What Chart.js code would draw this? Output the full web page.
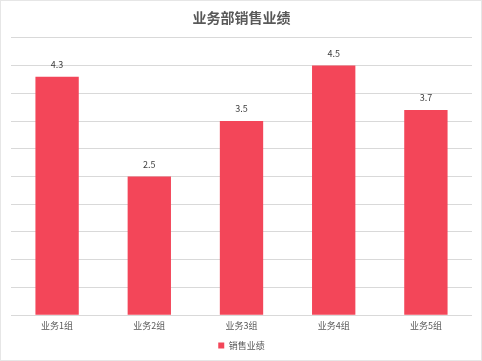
<!DOCTYPE html>
<html>
<head>
<meta charset="utf-8">
<script src="https://cdn.jsdelivr.net/npm/chart.js@4/dist/chart.umd.min.js"></script>
<style>
  html, body { margin: 0; padding: 0; background: #fff; }
  #wrap { position: relative; width: 480px; height: 359px; border: 1px solid #e6e6e6; }
</style>
</head>
<body>
<div id="wrap"><canvas id="grafico"></canvas></div>
<script>
// datos del gráfico
const categorias = ['业务1组', '业务2组', '业务3组', '业务4组', '业务5组'];
const ventas = [4.3, 2.5, 3.5, 4.5, 3.7];
const nombreSerie = '销售业绩';
const titulo = '业务部销售业绩';

const fuente = '"Microsoft YaHei", "Noto Sans CJK SC", sans-serif';

/** Etiquetas encima de cada barra */
const etiquetasBarras = {
    id: 'etiquetasBarras',
    afterDatasetsDraw(chart) {
        const ctx = chart.ctx;
        ctx.save();
        ctx.font = '9px ' + fuente;
        ctx.fillStyle = '#404040';
        ctx.textAlign = 'center';
        ctx.textBaseline = 'middle';
        chart.getDatasetMeta(0).data.forEach((barra, i) => {
            ctx.fillText(ventas[i].toFixed(1), barra.x, barra.y - 12);
        });
        ctx.restore();
    }
};

new Chart(document.getElementById('grafico'), {
    type: 'bar',
    data: {
        labels: categorias,
        datasets: [{
            label: nombreSerie,
            data: ventas,
            backgroundColor: '#f34659',
            categoryPercentage: 0.94,
            barPercentage: 0.5
        }]
    },
    options: {
        responsive: true, maintainAspectRatio: false, animation: false,
        layout: { padding: { left: 10, right: 9, top: 0, bottom: 0 } },
        plugins: {
            title: { display: true, text: titulo, color: '#595959', font: { family: fuente, size: 14, weight: 'bold' }, padding: { top: 8, bottom: 12 } },
            legend: {
                position: 'bottom',
                labels: { color: '#595959', font: { family: fuente, size: 9 }, boxWidth: 6, boxHeight: 6, padding: 5 }
            },
            tooltip: { enabled: false }
        },
        scales: {
            x: {
                grid: { display: false, drawTicks: false },
                border: { display: false },
                ticks: { color: '#595959', font: { family: fuente, size: 9 }, padding: 5 }
            },
            y: {
                min: 0, max: 5,
                ticks: { display: false, stepSize: 0.5 },
                grid: { color: '#d9d9d9', drawTicks: false },
                border: { display: false }
            }
        }
    },
    plugins: [etiquetasBarras]
});
</script>
</body>
</html>
